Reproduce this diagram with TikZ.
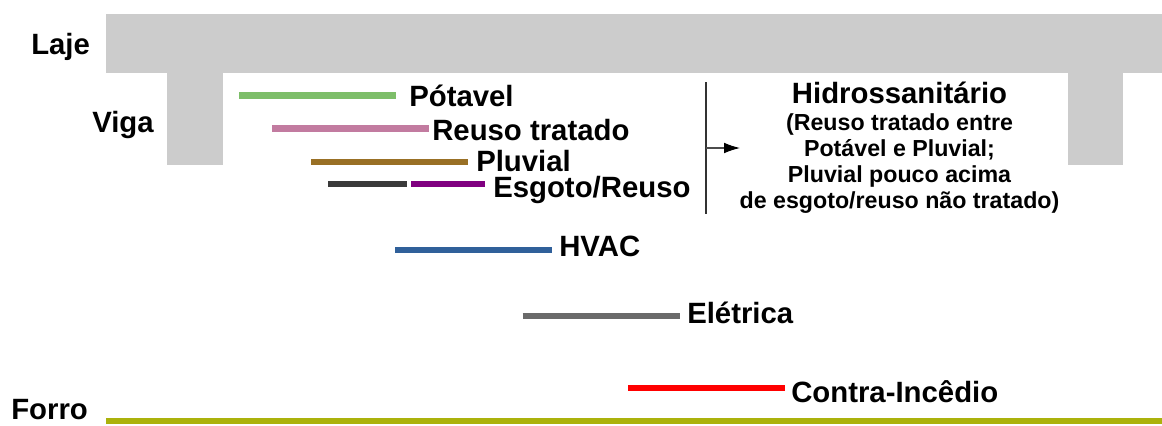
\documentclass[tikz,border=0pt]{standalone}
\usepackage{fontspec}
\usetikzlibrary{arrows.meta}
\setmainfont{Liberation Sans}
\definecolor{concreto}{HTML}{CCCCCC}
\definecolor{verdeagua}{HTML}{7DBE69}
\definecolor{rosareuso}{HTML}{C27BA0}
\definecolor{marrompluv}{HTML}{997025}
\definecolor{cinzaesg}{HTML}{3A3A3A}
\definecolor{roxoreuso}{HTML}{800080}
\definecolor{azulhvac}{HTML}{30609A}
\definecolor{cinzaele}{HTML}{6A6A6A}
\definecolor{oliva}{HTML}{ABB20C}
\begin{document}
\begin{tikzpicture}[x=0.75pt,y=-0.75pt,line join=round,
  tubo/.style={line width=4.6pt},
  rotulo/.style={font=\fontsize{22}{26}\bfseries\selectfont,inner sep=0pt,anchor=base west},
  nota/.style={font=\fontsize{17.4}{19.7}\bfseries\selectfont,align=center,inner sep=0pt}]
\useasboundingbox (0,0) rectangle (1162,425);

%Laje e vigas
\fill[concreto] (106,14) rectangle (1162,72.5);
\fill[concreto] (167,72) rectangle (223,164.5);
\fill[concreto] (1068,72) rectangle (1123,164.5);
\node[rotulo] (laje) at (31,54) {Laje};
\node[rotulo] (viga) at (92,132) {Viga};

%Hidrossanitario
\draw[tubo,verdeagua] (239,95.5) -- (396,95.5);
\node[rotulo] (potavel) at (409,106.5) {Pótavel};
\draw[tubo,rosareuso] (272,128.5) -- (429,128.5);
\node[rotulo] (reuso) at (432,140.5) {Reuso tratado};
\draw[tubo,marrompluv] (311,162) -- (468,162);
\node[rotulo] (pluvial) at (476,171) {Pluvial};
\draw[tubo,cinzaesg] (328,184) -- (407,184);
\draw[tubo,roxoreuso] (411,184) -- (484.5,184);
\node[rotulo] (esgoto) at (493,197.5) {Esgoto/Reuso};

%Outros sistemas
\draw[tubo,azulhvac] (395,250) -- (552,250);
\node[rotulo] (hvac) at (559,256) {HVAC};
\draw[tubo,cinzaele] (522.5,316) -- (680,316);
\node[rotulo] (eletrica) at (687,323) {Elétrica};
\draw[tubo,red] (628,388) -- (785,388);
\node[rotulo] (incendio) at (791,402) {Contra-Incêdio};

%Forro
\draw[tubo,oliva] (106,421) -- (1162,421);
\node[rotulo] (forro) at (11,419) {Forro};

%Nota
\coordinate (topo) at (706,82);
\coordinate (base) at (706,214);
\coordinate (saida) at (706,148);
\coordinate (ponta) at (740,148);
\draw[line width=1pt,black!80] (topo) -- (base);
\draw[black!70,-{Latex[length=12pt,width=8pt,black]},line width=0.8pt] (saida) -- (ponta);
\node[rotulo,anchor=base] (hidro) at (899.5,103) {Hidrossanitário};
\node[nota,anchor=north] (regras) at (899.5,113) {(Reuso tratado entre\\Potável e Pluvial;\\Pluvial pouco acima\\de esgoto/reuso não tratado)};

\end{tikzpicture}
\end{document}
